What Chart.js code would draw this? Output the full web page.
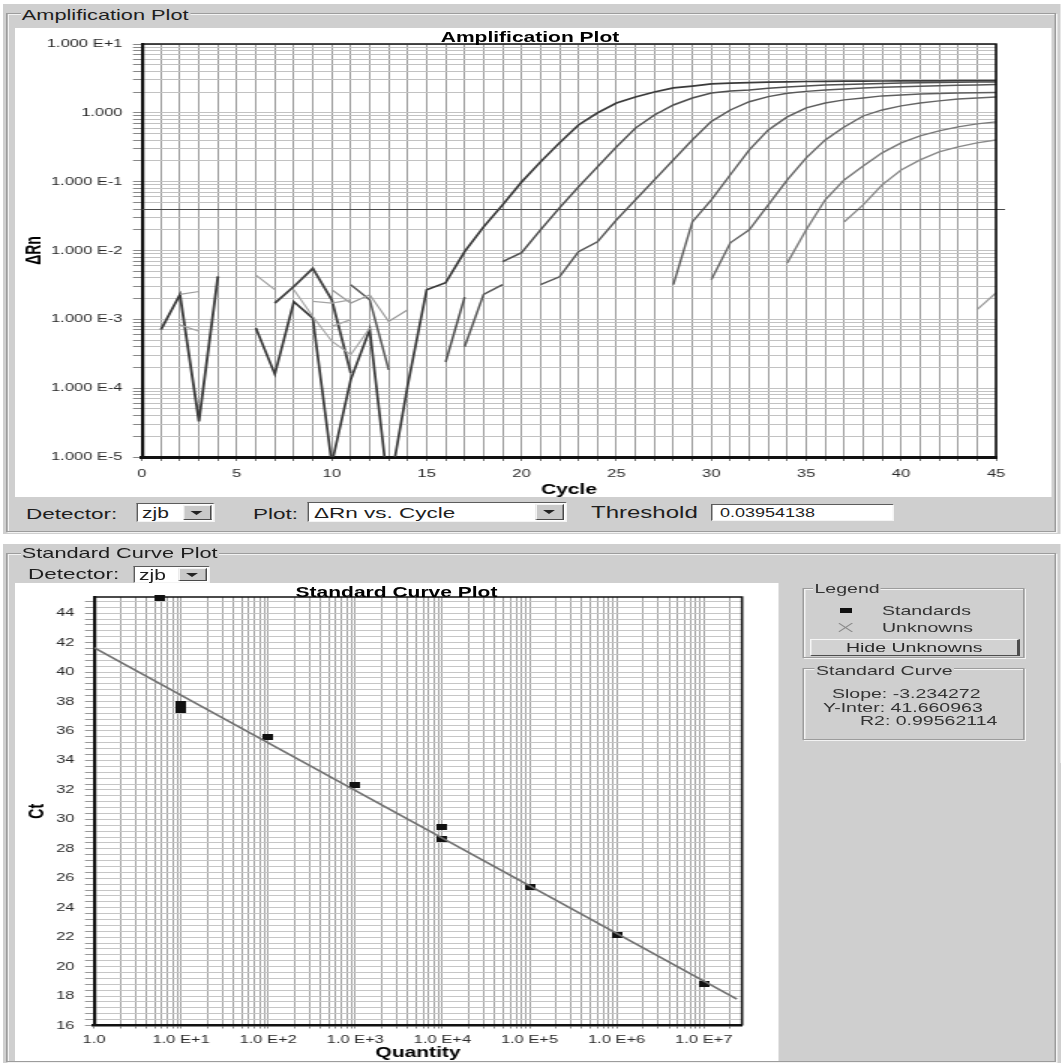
<!DOCTYPE html>
<html lang="en">
<head>
<meta charset="utf-8">
<title>Amplification Plot / Standard Curve Plot</title>
<script src="https://cdn.jsdelivr.net/npm/chart.js@4.4.1/dist/chart.umd.min.js"></script>
<style>
  html, body { margin: 0; padding: 0; background: #fff; overflow: hidden; }
  body { width: 1061px; height: 1063px; position: relative; font-family: "Liberation Sans", Arial, sans-serif; color: #1e1e1e; }
  /* the screenshot is stretched sideways, so the UI is laid out narrow and widened 1.5x */
  #ui { position: absolute; left: 0; top: 0; width: 707.33px; height: 1063px; transform: scaleX(1.5); transform-origin: 0 0; }
  .abs { position: absolute; white-space: nowrap; line-height: 1; }
  .panel { position: absolute; background: #cfcfcf; }
  .white { position: absolute; background: #fff; }
  .group { position: absolute; border: 1px solid #9c9c9c; box-shadow: inset 1px 1px 0 #f3f3f3, 1px 1px 0 #f3f3f3; box-sizing: border-box; }
  .glabel { background: #cfcfcf; padding: 0 1px; }
  .combo { position: absolute; background: #fff; box-sizing: border-box;
    border-top: 1px solid #5c5c5c; border-left: 1px solid #5c5c5c; border-bottom: 1px solid #f4f4f4; border-right: 1px solid #f4f4f4; }
  .combo .txt { position: absolute; left: 3px; font-size: 14px; line-height: 1; }
  .combo .btn { position: absolute; right: 1px; top: 1px; bottom: 1px; width: 19px; background: #c9c9c9; box-sizing: border-box;
    border-top: 1px solid #f4f4f4; border-left: 1px solid #f4f4f4; border-right: 1px solid #4a4a4a; border-bottom: 1px solid #4a4a4a; }
  .combo .btn::after { content: ""; position: absolute; left: 50%; top: 50%; margin-left: -4px; margin-top: -2px;
    border-left: 4px solid transparent; border-right: 4px solid transparent; border-top: 4px solid #222; }
  .field { position: absolute; background: #fff; box-sizing: border-box;
    border-top: 1px solid #5c5c5c; border-left: 1px solid #5c5c5c; border-bottom: 1px solid #f4f4f4; border-right: 1px solid #f4f4f4; }
  .button { position: absolute; background: #d2d2d2; box-sizing: border-box; text-align: center; font-size: 13px; line-height: 15px;
    border-top: 1px solid #f6f6f6; border-left: 1px solid #f6f6f6; border-right: 2px solid #4d4d4d; border-bottom: 1px solid #4d4d4d; color: #2a2a2a; }
  .ctitle { position: absolute; text-align: center; font-weight: bold; font-size: 14px; line-height: 1; color: #000; }
  canvas { position: absolute; }
</style>
</head>
<body>
<div id="ui">
  <!-- amplification plot panel -->
  <div class="panel" style="left:2px;top:4px;width:705.33px;height:530px;"></div>
  <div class="group" style="left:4px;top:13px;width:700px;height:519px;"></div>
  <div class="abs glabel" style="left:13.5px;top:7.9px;font-size:14.5px;">Amplification Plot</div>
  <div class="white" style="left:10px;top:28px;width:691px;height:469px;"></div>
  <canvas id="ampChart" width="691" height="469" style="left:10px;top:28px;"></canvas>
  <div class="ctitle" style="left:253.33px;top:29.5px;width:200px;">Amplification Plot</div>

  <div class="abs" style="left:17.33px;top:505.6px;font-size:15px;">Detector:</div>
  <div class="combo" style="left:90.67px;top:503px;width:52px;height:19px;"><span class="txt" style="top:2px;">zjb</span><span class="btn"></span></div>
  <div class="abs" style="left:168.67px;top:505.6px;font-size:15px;">Plot:</div>
  <div class="combo" style="left:205.33px;top:502px;width:172.67px;height:20px;"><span class="txt" style="top:2px;font-size:15px;">ΔRn vs. Cycle</span><span class="btn"></span></div>
  <div class="abs" style="left:394px;top:505.2px;font-size:16px;">Threshold</div>
  <div class="field" style="left:474px;top:504px;width:122px;height:17px;"><span class="abs" style="left:5px;top:2px;font-size:12px;">0.03954138</span></div>

  <!-- standard curve panel -->
  <div class="panel" style="left:2px;top:544px;width:705.33px;height:519px;"></div>
  <div class="group" style="left:4px;top:553px;width:700px;height:509px;"></div>
  <div class="abs glabel" style="left:13.5px;top:546px;font-size:14.5px;">Standard Curve Plot</div>
  <div class="abs" style="left:18.67px;top:565.7px;font-size:15px;">Detector:</div>
  <div class="combo" style="left:88.67px;top:566px;width:51.33px;height:17px;"><span class="txt" style="top:1px;">zjb</span><span class="btn"></span></div>
  <div class="white" style="left:10px;top:583px;width:509px;height:478px;"></div>
  <canvas id="stdChart" width="509" height="477" style="left:10px;top:583px;"></canvas>
  <div class="ctitle" style="left:164.33px;top:584.5px;width:200px;">Standard Curve Plot</div>

  <div class="group" style="left:535.33px;top:588px;width:148px;height:70px;"></div>
  <div class="abs glabel" style="left:542px;top:581.6px;font-size:13px;color:#333;">Legend</div>
  <div class="abs" style="left:560px;top:607.5px;width:8px;height:5px;background:#111;"></div>
  <div class="abs" style="left:588px;top:603.6px;font-size:13px;color:#333;">Standards</div>
  <svg class="abs" style="left:559.3px;top:622.5px;" width="9.3" height="9" viewBox="0 0 9.3 9">
    <line x1="0" y1="0" x2="9.3" y2="9" stroke="#8a8a8a" stroke-width="1"/>
    <line x1="0" y1="9" x2="9.3" y2="0" stroke="#8a8a8a" stroke-width="1"/>
  </svg>
  <div class="abs" style="left:588px;top:620.6px;font-size:13px;color:#333;">Unknowns</div>
  <div class="button" style="left:540px;top:638.5px;width:140px;height:17px;">Hide Unknowns</div>

  <div class="group" style="left:535.33px;top:668px;width:148px;height:72px;"></div>
  <div class="abs glabel" style="left:543px;top:663.6px;font-size:13px;color:#333;">Standard Curve</div>
  <div class="abs" style="left:554.67px;top:686.6px;font-size:13px;color:#333;">Slope: -3.234272</div>
  <div class="abs" style="left:548.67px;top:700.6px;font-size:13px;color:#333;">Y-Inter: 41.660963</div>
  <div class="abs" style="left:573.33px;top:713.6px;font-size:13px;color:#333;">R2: 0.99562114</div>
</div>

<script>
const fontFamily = '"Liberation Sans", Arial, sans-serif';

// ---------- Amplification plot: [cycle, ΔRn], null = negative ΔRn (gap on the log axis)
const ampCycles = [0, 45];
const ampCycleLabels = [0, 5, 10, 15, 20, 25, 30, 35, 40, 45];
const ampDecades = [1e-5, 1e-4, 1e-3, 1e-2, 1e-1, 1, 10];
const ampDecadeLabels = ['1.000 E-5', '1.000 E-4', '1.000 E-3', '1.000 E-2', '1.000 E-1', '1.000', '1.000 E+1'];
const threshold = 0.03954138;

const curveA = [[6, 7.5e-4], [7, 1.6e-4], [8, 1.8e-3], [9, 1.04e-3], [10, 8e-6], [11, 1.33e-4], [12, 7.1e-4], [13, 3e-6],
  [14, 1.1e-4], [15, 2.69e-3], [16, 3.4e-3], [17, 9.6e-3], [18, 0.0221], [19, 0.046], [20, 0.099], [21, 0.194],
  [22, 0.366], [23, 0.667], [24, 1.0], [25, 1.39], [26, 1.70], [27, 2.01], [28, 2.30], [29, 2.45], [30, 2.63],
  [31, 2.70], [32, 2.75], [33, 2.79], [34, 2.82], [35, 2.85], [36, 2.87], [37, 2.88], [38, 2.89], [39, 2.90],
  [40, 2.91], [41, 2.92], [42, 2.92], [43, 2.93], [44, 2.93], [45, 2.94]];
const curveB = [[16, 2.4e-4], [17, 2.1e-3], [18, null], [19, 6.9e-3], [20, 9.3e-3], [21, 0.020], [22, 0.0417],
  [23, 0.084], [24, 0.164], [25, 0.32], [26, 0.60], [27, 0.93], [28, 1.30], [29, 1.64], [30, 1.94], [31, 2.07],
  [32, 2.15], [33, 2.27], [34, 2.37], [35, 2.45], [36, 2.53], [37, 2.58], [38, 2.63], [39, 2.67], [40, 2.72],
  [41, 2.74], [42, 2.76], [43, 2.78], [44, 2.80], [45, 2.81]];
const curveC = [[17, 4.0e-4], [18, 2.3e-3], [19, 3.2e-3], [20, null], [21, 3.2e-3], [22, 4.15e-3], [23, 9.6e-3],
  [24, 0.0134], [25, 0.0279], [26, 0.0545], [27, 0.106], [28, 0.207], [29, 0.404], [30, 0.75], [31, 1.1],
  [32, 1.45], [33, 1.72], [34, 1.92], [35, 2.05], [36, 2.15], [37, 2.22], [38, 2.30], [39, 2.35], [40, 2.40],
  [41, 2.44], [42, 2.48], [43, 2.51], [44, 2.54], [45, 2.57]];
const curveD = [[28, 3.2e-3], [29, 0.026], [30, 0.0545], [31, 0.126], [32, 0.29], [33, 0.565], [34, 0.873],
  [35, 1.18], [36, 1.39], [37, 1.54], [38, 1.64], [39, 1.76], [40, 1.82], [41, 1.88], [42, 1.91], [43, 1.94],
  [44, 1.96], [45, 1.97]];
const curveE = [[30, 3.76e-3], [31, 0.0129], [32, 0.020], [33, 0.046], [34, 0.106], [35, 0.221], [36, 0.404],
  [37, 0.624], [38, 0.90], [39, 1.10], [40, 1.26], [41, 1.39], [42, 1.49], [43, 1.59], [44, 1.64], [45, 1.70]];
const curveF = [[34, 6.6e-3], [35, 0.020], [36, 0.0545], [37, 0.106], [38, 0.169], [39, 0.262], [40, 0.366],
  [41, 0.462], [42, 0.546], [43, 0.624], [44, 0.69], [45, 0.738]];
const curveG = [[37, 0.0261], [38, 0.046], [39, 0.09], [40, 0.148], [41, 0.207], [42, 0.271], [43, 0.32],
  [44, 0.366], [45, 0.404]];
const curveH = [[44, 1.38e-3], [45, 2.43e-3]];

// baseline noise before the curves rise
const noiseDark1 = [[1, 7.1e-4], [2, 2.3e-3], [3, 3.3e-5], [4, 4.2e-3]];
const noiseDark2 = [[7, 1.72e-3], [8, 3.0e-3], [9, 5.5e-3], [10, 1.92e-3], [11, 1.66e-4]];
const noiseMid1 = [[11, 3.18e-3], [12, 1.92e-3], [13, 1.85e-4]];
const noiseLight1 = [[2, 2.3e-3], [3, 2.54e-3]];
const noiseLight2 = [[2, 8.3e-4], [3, 6.7e-4]];
const noiseLight3 = [[6, 4.4e-3], [7, 2.7e-3]];
const noiseLight4 = [[8, 2.69e-3], [9, 1.10e-3], [10, 4.8e-4], [11, 3.06e-4], [12, 7.5e-4]];
const noiseLight5 = [[9, 1.82e-3], [10, 1.72e-3], [11, 1.92e-3]];
const noiseLight6 = [[10, 2.69e-3], [11, 1.72e-3], [12, 2.27e-3], [13, 9.3e-4], [14, 1.38e-3]];
const noiseLight7 = [[10, 7.9e-4], [11, 9.9e-4]];

// ---------- Standard curve
const stdQuantity = [5.6, 10, 10, 100, 1000, 10000, 10000, 100000, 1000000, 10000000];
const stdCt = [45.0, 37.82, 37.45, 35.56, 32.32, 29.45, 28.64, 25.42, 22.14, 18.79];
const stdSlope = -3.234272;
const stdIntercept = 41.660963;
const fitQuantity = [1, 2.4e7];
const qtyDecades = [1, 1e1, 1e2, 1e3, 1e4, 1e5, 1e6, 1e7];
const qtyDecadeLabels = ['1.0', '1.0 E+1', '1.0 E+2', '1.0 E+3', '1.0 E+4', '1.0 E+5', '1.0 E+6', '1.0 E+7'];
const ctTickValues = [16, 18, 20, 22, 24, 26, 28, 30, 32, 34, 36, 38, 40, 42, 44];

function trace(pairs, color, width) {
  return {
    data: pairs.map(p => ({ x: p[0], y: p[1] })),
    borderColor: color,
    borderWidth: width,
    pointRadius: 0,
    tension: 0,
    spanGaps: false,
    fill: false
  };
}

// grid ticks at 1..9 x 10^n up to max
function logTicks(decades, max) {
  const ticks = [];
  decades.forEach(d => {
    for (let m = 1; m < 10; m++) {
      if (d * m <= max * 1.000001) ticks.push({ value: d * m });
    }
  });
  return ticks;
}
function decadeLabel(v, decades, labels) {
  const i = decades.findIndex(d => Math.abs(v / d - 1) < 1e-6);
  return i >= 0 ? labels[i] : '';
}

// black frame on top and right of the plot area
const framePlugin = {
  id: 'frame',
  afterDatasetsDraw(chart, args, opts) {
    const a = chart.chartArea;
    const ctx = chart.ctx;
    ctx.save();
    ctx.strokeStyle = '#111';
    ctx.lineWidth = opts.width || 1.5;
    ctx.beginPath();
    ctx.moveTo(a.left, a.top);
    ctx.lineTo(a.right, a.top);
    ctx.lineTo(a.right, a.bottom);
    ctx.stroke();
    ctx.restore();
  }
};

const thresholdPlugin = {
  id: 'threshold',
  afterDatasetsDraw(chart) {
    const y = chart.scales.y.getPixelForValue(threshold);
    const a = chart.chartArea;
    const ctx = chart.ctx;
    ctx.save();
    ctx.strokeStyle = '#4a4a4a';
    ctx.lineWidth = 1;
    ctx.beginPath();
    ctx.moveTo(a.left, Math.round(y) + 0.5);
    ctx.lineTo(a.right + 6, Math.round(y) + 0.5);
    ctx.stroke();
    ctx.restore();
  }
};

const tickFont = { family: fontFamily, size: 11 };
const axisTitleFont = { family: fontFamily, size: 14, weight: 'bold', lineHeight: 1 };

new Chart(document.getElementById('ampChart'), {
  type: 'line',
  data: {
    datasets: [
      trace(noiseLight1, '#9c9c9c', 1.2),
      trace(noiseLight2, '#a4a4a4', 1.2),
      trace(noiseLight3, '#a0a0a0', 1.2),
      trace(noiseLight4, '#a8a8a8', 1.2),
      trace(noiseLight5, '#a4a4a4', 1.2),
      trace(noiseLight6, '#9a9a9a', 1.2),
      trace(noiseLight7, '#a8a8a8', 1.2),
      trace(noiseMid1, '#5a5a5a', 1.5),
      trace(noiseDark1, '#3c3c3c', 1.8),
      trace(noiseDark2, '#444444', 1.8),
      trace(curveH, '#9a9a9a', 1.3),
      trace(curveG, '#8a8a8a', 1.4),
      trace(curveF, '#7a7a7a', 1.4),
      trace(curveE, '#666666', 1.4),
      trace(curveD, '#5e5e5e', 1.4),
      trace(curveC, '#585858', 1.5),
      trace(curveB, '#505050', 1.5),
      trace(curveA, '#3a3a3a', 1.7)
    ]
  },
  options: {
    responsive: false,
    animation: false,
    devicePixelRatio: 1,
    events: [],
    layout: { padding: { top: 16, right: 37, left: 0, bottom: 0 } },
    plugins: { legend: { display: false }, tooltip: { enabled: false }, title: { display: false }, frame: { width: 1.6 } },
    scales: {
      x: {
        type: 'linear',
        min: ampCycles[0],
        max: ampCycles[1],
        afterBuildTicks: axis => {
          const ticks = [];
          for (let c = ampCycles[0]; c <= ampCycles[1]; c++) ticks.push({ value: c });
          axis.ticks = ticks;
        },
        afterFit: s => { s.height = 40; },
        ticks: {
          autoSkip: false, maxRotation: 0, padding: 6, color: '#2a2a2a', font: tickFont,
          callback: v => ampCycleLabels.includes(v) ? String(v) : ''
        },
        grid: { color: '#9c9c9c', lineWidth: 1, tickLength: 4, tickColor: '#777' },
        border: { color: '#111', width: 3 },
        title: { display: true, text: 'Cycle', color: '#000', font: axisTitleFont, padding: { top: 0, bottom: 0 } }
      },
      y: {
        type: 'logarithmic',
        min: ampDecades[0],
        max: ampDecades[ampDecades.length - 1],
        afterBuildTicks: axis => { axis.ticks = logTicks(ampDecades, axis.max); },
        afterFit: s => { s.width = 84.67; },
        ticks: {
          autoSkip: false, padding: 7, color: '#2a2a2a', font: tickFont,
          callback: v => decadeLabel(v, ampDecades, ampDecadeLabels)
        },
        grid: { color: '#c2c2c2', lineWidth: 1, tickLength: 6, tickColor: '#888' },
        border: { color: '#111', width: 2.2 },
        title: { display: true, text: 'ΔRn', color: '#000', font: axisTitleFont, padding: { top: 6.3, bottom: 0 } }
      }
    }
  },
  plugins: [thresholdPlugin, framePlugin]
});

// filled black bar used for the standards
const stdMarker = document.createElement('canvas');
stdMarker.width = 7;
stdMarker.height = 6;
const mctx = stdMarker.getContext('2d');
mctx.fillStyle = '#111';
mctx.fillRect(0, 0, 7, 6);

new Chart(document.getElementById('stdChart'), {
  type: 'scatter',
  data: {
    datasets: [
      {
        data: fitQuantity.map(q => ({ x: q, y: stdIntercept + stdSlope * Math.log10(q) })),
        showLine: true,
        borderColor: '#707070',
        borderWidth: 1.6,
        pointRadius: 0,
        tension: 0
      },
      {
        data: stdQuantity.map((q, i) => ({ x: q, y: stdCt[i] })),
        showLine: false,
        pointStyle: stdMarker,
        pointRadius: 4,
        clip: false
      }
    ]
  },
  options: {
    responsive: false,
    animation: false,
    devicePixelRatio: 1,
    events: [],
    layout: { padding: { top: 14, right: 24.33, left: 0, bottom: 0 } },
    plugins: { legend: { display: false }, tooltip: { enabled: false }, title: { display: false }, frame: { width: 1.6 } },
    scales: {
      x: {
        type: 'logarithmic',
        min: qtyDecades[0],
        max: 2.75e7,
        afterBuildTicks: axis => { axis.ticks = logTicks(qtyDecades, axis.max); },
        afterFit: s => { s.height = 34.5; },
        ticks: {
          autoSkip: false, maxRotation: 0, padding: 5, color: '#2a2a2a', font: tickFont,
          callback: v => decadeLabel(v, qtyDecades, qtyDecadeLabels)
        },
        grid: { color: '#a2a2a2', lineWidth: 1, tickLength: 3, tickColor: '#888' },
        border: { color: '#111', width: 2.5 },
        title: { display: true, text: 'Quantity', color: '#000', font: axisTitleFont, padding: { top: 0, bottom: 0 } }
      },
      y: {
        type: 'linear',
        min: 16,
        max: 45.1,
        afterBuildTicks: axis => {
          const ticks = [];
          ctTickValues.forEach(v => {
            for (let k = 0; k < 5; k++) {
              const t = v + k * 0.4;
              if (t <= axis.max) ticks.push({ value: k === 0 ? v : t });
            }
          });
          axis.ticks = ticks;
        },
        afterFit: s => { s.width = 52.67; },
        ticks: {
          autoSkip: false, padding: 7, color: '#2a2a2a', font: tickFont,
          callback: v => ctTickValues.includes(v) ? String(v) : ''
        },
        grid: { color: '#c6c6c6', lineWidth: 1, tickLength: 6, tickColor: '#999' },
        border: { color: '#111', width: 2.2 },
        title: { display: true, text: 'Ct', color: '#000', font: axisTitleFont, padding: { top: 8.3, bottom: 0 } }
      }
    }
  },
  plugins: [framePlugin]
});
</script>
</body>
</html>
